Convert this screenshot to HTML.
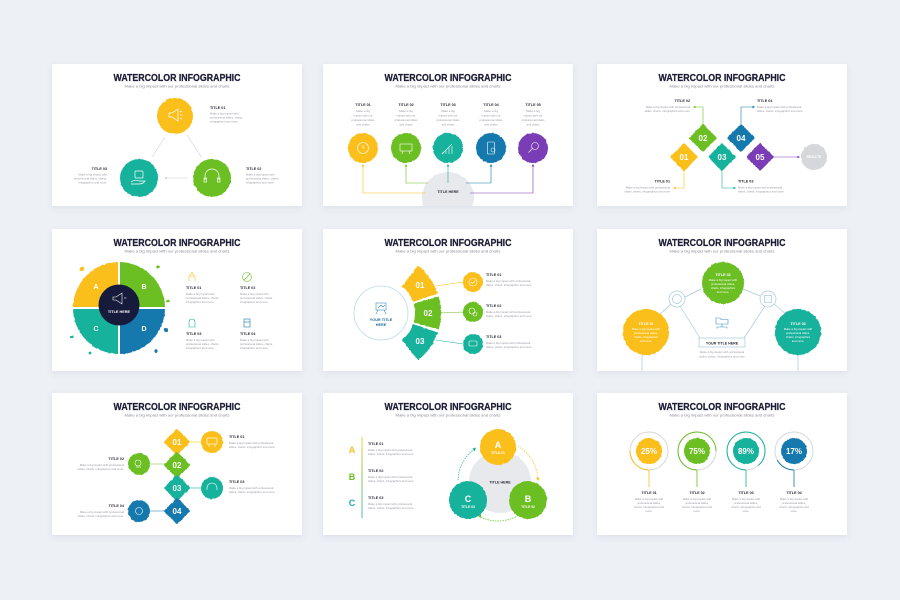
<!DOCTYPE html>
<html><head><meta charset="utf-8"><style>
html,body{margin:0;padding:0;background:#edf0f5;width:900px;height:600px;overflow:hidden}
svg{display:block}
text{font-family:"Liberation Sans",sans-serif}
.T{font-weight:bold;font-size:10px;fill:#1c1d35;stroke:#1c1d35;stroke-width:.25}
.S{font-size:3.4px;fill:#8a8a95}
.H{font-weight:bold;font-size:3.7px;fill:#2b2b3a}
.D{font-size:2.8px;fill:#9a9aa5}
.W{fill:#fff}
.N{font-weight:bold;font-size:8px;fill:#fff}
</style></head><body>
<svg width="900" height="600" viewBox="0 0 900 600" xmlns="http://www.w3.org/2000/svg">
<defs>
<filter id="sh" x="-10%" y="-10%" width="120%" height="125%"><feDropShadow dx="0" dy="2" stdDeviation="3" flood-color="#6a7590" flood-opacity="0.12"/></filter>
<filter id="r" x="-30%" y="-30%" width="160%" height="160%"><feTurbulence type="fractalNoise" baseFrequency="0.35" numOctaves="2" seed="7"/><feDisplacementMap in="SourceGraphic" scale="1.8" xChannelSelector="R" yChannelSelector="G"/></filter>
<linearGradient id="lg" x1="0" y1="0" x2="0" y2="1"><stop offset="0" stop-color="#fbbf1a"/><stop offset=".5" stop-color="#6cbf22"/><stop offset="1" stop-color="#17b29c"/></linearGradient>
<clipPath id="sc"><rect width="250" height="142"/></clipPath>
</defs>
<rect width="900" height="600" fill="#edf0f5"/>

<!-- Slide 1 -->
<g transform="translate(52,64)">
<rect width="250" height="142" fill="#fff" filter="url(#sh)"/>
<text x="125" y="17" text-anchor="middle" class="T" textLength="127" lengthAdjust="spacingAndGlyphs">WATERCOLOR INFOGRAPHIC</text>
<text x="125" y="23.5" text-anchor="middle" class="S" textLength="105" lengthAdjust="spacingAndGlyphs">Make a big impact with our professional slides and charts</text>
<g stroke="#cfd0d4" stroke-width=".6" fill="none"><line x1="113" y1="73" x2="100" y2="93"/><line x1="135" y1="71" x2="150" y2="94"/><line x1="136" y1="114" x2="114" y2="114"/></g>
<polygon points="112,114 115,112.6 115,115.4" fill="#cfd0d4"/>
<g filter="url(#r)"><circle cx="123" cy="52" r="18" fill="#fbbf1a"/><circle cx="87" cy="114" r="19" fill="#17b29c"/><circle cx="160" cy="114" r="19" fill="#6cbf22"/></g>
<g stroke="#fff" stroke-width=".7" fill="none"><path d="M117,49 h3 l6,-4 v12 l-6,-4 h-3 z"/><path d="M128,48 l2,-1 M128,51 h2.5 M128,54 l2,1"/>
<path d="M153,116 v-4 a7,7 0 0 1 14,0 v4"/><rect x="152" y="114" width="2.5" height="4"/><rect x="165.5" y="114" width="2.5" height="4"/>
<rect x="83" y="107" width="8" height="7" rx="1"/><path d="M79,118 q4,-3 8,-1 h6 q-2,3 -6,3 h-8"/></g>
<text x="158" y="45" class="H">TITLE 01</text>
<text x="158" y="50.5" class="D">Make a big impact with</text><text x="158" y="54.5" class="D">professional slides, charts,</text><text x="158" y="58.5" class="D">infographics and more.</text>
<text x="55" y="106" class="H" text-anchor="end">TITLE 03</text>
<text x="55" y="111.5" class="D" text-anchor="end">Make a big impact with</text><text x="55" y="115.5" class="D" text-anchor="end">professional slides, charts,</text><text x="55" y="119.5" class="D" text-anchor="end">infographics and more.</text>
<text x="194" y="106" class="H">TITLE 02</text>
<text x="194" y="111.5" class="D">Make a big impact with</text><text x="194" y="115.5" class="D">professional slides, charts,</text><text x="194" y="119.5" class="D">infographics and more.</text>
</g>

<!-- Slide 2 -->
<g transform="translate(323,64)">
<rect width="250" height="142" fill="#fff" filter="url(#sh)"/>
<text x="125" y="17" text-anchor="middle" class="T" textLength="127" lengthAdjust="spacingAndGlyphs">WATERCOLOR INFOGRAPHIC</text>
<text x="125" y="23.5" text-anchor="middle" class="S" textLength="105" lengthAdjust="spacingAndGlyphs">Make a big impact with our professional slides and charts</text>
<g clip-path="url(#sc)"><g filter="url(#r)"><circle cx="125" cy="134" r="26" fill="#e8e9ec"/></g></g>
<g text-anchor="middle">
<text x="40" y="42" class="H">TITLE 01</text><text x="83" y="42" class="H">TITLE 02</text><text x="125" y="42" class="H">TITLE 03</text><text x="168" y="42" class="H">TITLE 04</text><text x="210" y="42" class="H">TITLE 05</text>
<g class="D">
<text x="40" y="48">Make a big</text><text x="40" y="52.5">impact with our</text><text x="40" y="57">professional slides</text><text x="40" y="61.5">and charts</text>
<text x="83" y="48">Make a big</text><text x="83" y="52.5">impact with our</text><text x="83" y="57">professional slides</text><text x="83" y="61.5">and charts</text>
<text x="125" y="48">Make a big</text><text x="125" y="52.5">impact with our</text><text x="125" y="57">professional slides</text><text x="125" y="61.5">and charts</text>
<text x="168" y="48">Make a big</text><text x="168" y="52.5">impact with our</text><text x="168" y="57">professional slides</text><text x="168" y="61.5">and charts</text>
<text x="210" y="48">Make a big</text><text x="210" y="52.5">impact with our</text><text x="210" y="57">professional slides</text><text x="210" y="61.5">and charts</text>
</g></g>
<g fill="none" stroke-width=".6">
<polyline points="40,101 40,129 103,129" stroke="#fbbf1a"/>
<polyline points="83,101 83,119 105,119" stroke="#6cbf22"/>
<polyline points="125,101 125,119" stroke="#17b29c"/>
<polyline points="168,101 168,119 143,119" stroke="#1779ad"/>
<polyline points="210,101 210,129 147,129" stroke="#7a3db5"/>
</g>
<polygon points="40,100 38.6,102.5 41.4,102.5" fill="#fbbf1a"/><polygon points="83,100 81.6,102.5 84.4,102.5" fill="#6cbf22"/><polygon points="125,100 123.6,102.5 126.4,102.5" fill="#17b29c"/><polygon points="168,100 166.6,102.5 169.4,102.5" fill="#1779ad"/><polygon points="210,100 208.6,102.5 211.4,102.5" fill="#7a3db5"/>
<text x="125" y="129" class="H" text-anchor="middle">TITLE HERE</text>
<g filter="url(#r)"><circle cx="40" cy="84" r="15" fill="#fbbf1a"/><circle cx="83" cy="84" r="15" fill="#6cbf22"/><circle cx="125" cy="84" r="15" fill="#17b29c"/><circle cx="168" cy="84" r="15" fill="#1779ad"/><circle cx="210" cy="84" r="15" fill="#7a3db5"/></g>
<g stroke="#fff" stroke-width=".6" fill="none">
<circle cx="40" cy="84" r="5.5"/><path d="M40,81 v3 h2"/>
<rect x="77" y="80" width="12" height="7"/><path d="M80,87 l-1,3 M86,87 l1,3"/>
<path d="M119,90 l10,-10 M120,90 v-2 M123,90 v-4 M126,90 v-6 M129,90 v-8"/>
<rect x="164.5" y="78" width="7" height="12" rx="1"/><circle cx="170" cy="86" r="2"/>
<circle cx="212" cy="82" r="3.5"/><path d="M209.5,84.5 l-4,4"/>
</g>
</g>

<!-- Slide 3 -->
<g transform="translate(597,64)">
<rect width="250" height="142" fill="#fff" filter="url(#sh)"/>
<text x="125" y="17" text-anchor="middle" class="T" textLength="127" lengthAdjust="spacingAndGlyphs">WATERCOLOR INFOGRAPHIC</text>
<text x="125" y="23.5" text-anchor="middle" class="S" textLength="105" lengthAdjust="spacingAndGlyphs">Make a big impact with our professional slides and charts</text>
<g fill="none" stroke-width=".6">
<polyline points="106,62 106,43 97,43" stroke="#6cbf22"/>
<polyline points="144,62 144,43 157,43" stroke="#1779ad"/>
<polyline points="87,105 87,124 77,124" stroke="#fbbf1a"/>
<polyline points="125,105 125,124 138,124" stroke="#17b29c"/>
<line x1="174" y1="93" x2="202" y2="93" stroke="#7a3db5"/>
</g>
<polygon points="96,43 98.5,41.6 98.5,44.4" fill="#6cbf22"/><polygon points="158,43 155.5,41.6 155.5,44.4" fill="#1779ad"/><polygon points="76,124 78.5,122.6 78.5,125.4" fill="#fbbf1a"/><polygon points="139,124 136.5,122.6 136.5,125.4" fill="#17b29c"/><polygon points="203,93 200.5,91.6 200.5,94.4" fill="#7a3db5"/>
<g filter="url(#r)">
<rect x="-10" y="-10" width="20" height="20" rx="1.5" fill="#fbbf1a" transform="translate(87,93) rotate(45)"/>
<rect x="-10" y="-10" width="20" height="20" rx="1.5" fill="#6cbf22" transform="translate(106,74) rotate(45)"/>
<rect x="-10" y="-10" width="20" height="20" rx="1.5" fill="#17b29c" transform="translate(125,93) rotate(45)"/>
<rect x="-10" y="-10" width="20" height="20" rx="1.5" fill="#1779ad" transform="translate(144,74) rotate(45)"/>
<rect x="-10" y="-10" width="20" height="20" rx="1.5" fill="#7a3db5" transform="translate(163,93) rotate(45)"/>
<circle cx="217" cy="93" r="13" fill="#d6d7da"/>
</g>
<g text-anchor="middle" class="N"><text x="87" y="96">01</text><text x="106" y="77">02</text><text x="125" y="96">03</text><text x="144" y="77">04</text><text x="163" y="96">05</text></g>
<text x="217" y="94.2" text-anchor="middle" style="font-weight:bold;font-size:3.2px;fill:#fff">RESULTS</text>
<text x="93" y="38" class="H" text-anchor="end">TITLE 02</text>
<text x="93" y="44" class="D" text-anchor="end">Make a big impact with professional</text><text x="93" y="48" class="D" text-anchor="end">slides, charts, infographics and more</text>
<text x="160" y="38" class="H">TITLE 04</text>
<text x="160" y="44" class="D">Make a big impact with professional</text><text x="160" y="48" class="D">slides, charts, infographics and more</text>
<text x="73" y="118.5" class="H" text-anchor="end">TITLE 01</text>
<text x="73" y="124.5" class="D" text-anchor="end">Make a big impact with professional</text><text x="73" y="128.5" class="D" text-anchor="end">slides, charts, infographics and more</text>
<text x="141" y="118.5" class="H">TITLE 03</text>
<text x="141" y="124.5" class="D">Make a big impact with professional</text><text x="141" y="128.5" class="D">slides, charts, infographics and more</text>
</g>

<!-- Slide 4 -->
<g transform="translate(52,229)">
<rect width="250" height="142" fill="#fff" filter="url(#sh)"/>
<text x="125" y="17" text-anchor="middle" class="T" textLength="127" lengthAdjust="spacingAndGlyphs">WATERCOLOR INFOGRAPHIC</text>
<text x="125" y="23.5" text-anchor="middle" class="S" textLength="105" lengthAdjust="spacingAndGlyphs">Make a big impact with our professional slides and charts</text>
<g filter="url(#r)">
<path d="M67,79 L21,79 A46,46 0 0,1 67,33 Z" fill="#fbbf1a"/>
<path d="M67,79 L67,33 A46,46 0 0,1 113,79 Z" fill="#6cbf22"/>
<path d="M67,79 L113,79 A46,46 0 0,1 67,125 Z" fill="#1779ad"/>
<path d="M67,79 L67,125 A46,46 0 0,1 21,79 Z" fill="#17b29c"/>
<circle cx="30" cy="40" r="2" fill="#fbbf1a"/><circle cx="106" cy="38" r="1.6" fill="#6cbf22"/><circle cx="116" cy="72" r="1.5" fill="#6cbf22"/><circle cx="114" cy="101" r="2" fill="#1779ad"/><circle cx="104" cy="122" r="1.6" fill="#1779ad"/><circle cx="20" cy="108" r="1.6" fill="#17b29c"/><circle cx="38" cy="124" r="1.4" fill="#17b29c"/>
</g>
<line x1="67" y1="28" x2="67" y2="130" stroke="#fff" stroke-width="2"/><line x1="16" y1="79" x2="118" y2="79" stroke="#fff" stroke-width="2"/>
<circle cx="67" cy="76" r="20.5" fill="#161a3b"/>
<g stroke="#fff" stroke-width=".6" fill="none"><path d="M61,68 h3 l6,-4 v11 l-6,-4 h-3 z"/><path d="M72,69 h2.5"/></g>
<text x="67" y="84" text-anchor="middle" style="font-weight:bold;font-size:3.8px;fill:#fff">TITLE HERE</text>
<g style="font-weight:bold;font-size:7px;fill:#fff" text-anchor="middle"><text x="44" y="60">A</text><text x="92" y="60">B</text><text x="44" y="102">C</text><text x="92" y="102">D</text></g>
<g fill="none" stroke-width=".6">
<path d="M137,52 v-5 h6 v5 M138,47 l2,-4 l2,4" stroke="#fbbf1a"/>
<circle cx="195" cy="48" r="4.5" stroke="#6cbf22"/><path d="M192,51 l6,-6" stroke="#6cbf22"/>
<path d="M137,98 v-5 a3,3 0 0 1 6,0 v5 z" stroke="#17b29c"/>
<rect x="192" y="90" width="6" height="8" stroke="#1779ad"/><path d="M192,93 h6" stroke="#1779ad"/>
</g>
<text x="134" y="60" class="H">TITLE 01</text><text x="134" y="66" class="D">Make a big impact with</text><text x="134" y="70" class="D">professional slides, charts,</text><text x="134" y="74" class="D">infographics and more.</text>
<text x="188" y="60" class="H">TITLE 02</text><text x="188" y="66" class="D">Make a big impact with</text><text x="188" y="70" class="D">professional slides, charts,</text><text x="188" y="74" class="D">infographics and more.</text>
<text x="134" y="106" class="H">TITLE 03</text><text x="134" y="112" class="D">Make a big impact with</text><text x="134" y="116" class="D">professional slides, charts,</text><text x="134" y="120" class="D">infographics and more.</text>
<text x="188" y="106" class="H">TITLE 04</text><text x="188" y="112" class="D">Make a big impact with</text><text x="188" y="116" class="D">professional slides, charts,</text><text x="188" y="120" class="D">infographics and more.</text>
</g>

<!-- Slide 5 -->
<g transform="translate(323,229)">
<rect width="250" height="142" fill="#fff" filter="url(#sh)"/>
<text x="125" y="17" text-anchor="middle" class="T" textLength="127" lengthAdjust="spacingAndGlyphs">WATERCOLOR INFOGRAPHIC</text>
<text x="125" y="23.5" text-anchor="middle" class="S" textLength="105" lengthAdjust="spacingAndGlyphs">Make a big impact with our professional slides and charts</text>
<circle cx="58" cy="84" r="27" fill="none" stroke="#bcdcea" stroke-width=".8"/>
<g fill="none" stroke="#3a8fc4" stroke-width=".6"><rect x="53" y="74" width="10" height="7"/><path d="M55,81 l-2,4 M61,81 l2,4 M55,79 l3,-3 l2,2 l2,-2"/></g>
<text x="58" y="92" text-anchor="middle" style="font-weight:bold;font-size:3.8px;fill:#1c6e9c">YOUR TITLE</text>
<text x="58" y="97" text-anchor="middle" style="font-weight:bold;font-size:3.8px;fill:#1c6e9c">HERE</text>
<g fill="none" stroke-width=".6"><line x1="113" y1="57" x2="140" y2="53" stroke="#fbbf1a"/><line x1="116" y1="84" x2="140" y2="83" stroke="#6cbf22"/><line x1="113" y1="111" x2="140" y2="115" stroke="#17b29c"/></g>
<g filter="url(#r)">
<path d="M78.93,57.21 L94.94,36.72 A60,60 0 0,1 114.73,64.46 L90.15,72.93 A34,34 0 0,0 78.93,57.21 Z" fill="#fbbf1a"/>
<path d="M90.68,74.63 L115.68,67.46 A60,60 0 0,1 115.68,100.54 L90.68,93.37 A34,34 0 0,0 90.68,74.63 Z" fill="#6cbf22"/>
<path d="M90.15,95.07 L114.73,103.54 A60,60 0 0,1 94.94,131.28 L78.93,110.79 A34,34 0 0,0 90.15,95.07 Z" fill="#17b29c"/>
<circle cx="150" cy="53" r="10" fill="#fbbf1a"/><circle cx="150" cy="83" r="10" fill="#6cbf22"/><circle cx="150" cy="115" r="10" fill="#17b29c"/>
</g>
<g text-anchor="middle" class="N"><text x="97" y="59">01</text><text x="105" y="87">02</text><text x="97" y="115">03</text></g>
<g stroke="#fff" stroke-width=".6" fill="none"><circle cx="150" cy="53" r="4"/><path d="M148,53 l1.5,1.5 l3,-3"/><circle cx="149" cy="82" r="3"/><circle cx="152" cy="85" r="2"/><rect x="146" y="112" width="8" height="5" rx="1"/></g>
<text x="163" y="47" class="H">TITLE 01</text><text x="163" y="53" class="D">Make a big impact with professional</text><text x="163" y="57" class="D">slides, charts, infographics and more</text>
<text x="163" y="78" class="H">TITLE 02</text><text x="163" y="84" class="D">Make a big impact with professional</text><text x="163" y="88" class="D">slides, charts, infographics and more</text>
<text x="163" y="109" class="H">TITLE 03</text><text x="163" y="115" class="D">Make a big impact with professional</text><text x="163" y="119" class="D">slides, charts, infographics and more</text>
</g>

<!-- Slide 6 -->
<g transform="translate(597,229)">
<rect width="250" height="142" fill="#fff" filter="url(#sh)"/>
<text x="125" y="17" text-anchor="middle" class="T" textLength="127" lengthAdjust="spacingAndGlyphs">WATERCOLOR INFOGRAPHIC</text>
<text x="125" y="23.5" text-anchor="middle" class="S" textLength="105" lengthAdjust="spacingAndGlyphs">Make a big impact with our professional slides and charts</text>
<g fill="none" stroke="#a6c8dc" stroke-width=".7">
<line x1="62" y1="86" x2="74" y2="75"/><line x1="88" y1="68" x2="104" y2="60"/><line x1="146" y1="60" x2="163" y2="67"/><line x1="177" y1="75" x2="190" y2="86"/>
<line x1="83" y1="77" x2="103" y2="109"/><line x1="168" y1="77" x2="147" y2="109"/>
<line x1="45" y1="124" x2="45" y2="142"/><line x1="201" y1="124" x2="201" y2="142"/>
<rect x="102" y="109" width="46" height="9" fill="#fff"/>
<circle cx="80" cy="70" r="8" fill="#fff"/><circle cx="80" cy="70" r="4.5"/><circle cx="171" cy="70" r="8" fill="#fff"/><rect x="167.5" y="66.5" width="7" height="7"/>
</g>
<g fill="none" stroke="#3a8fc4" stroke-width=".6"><path d="M119,95 v-6 h4 l1,1.5 h7 v4.5 z M125,95 v3 M120,98 h10 M120,98 v1.5 M130,98 v1.5"/></g>
<text x="125" y="115.5" text-anchor="middle" class="H" style="font-size:3.6px">YOUR TITLE HERE</text>
<text x="125" y="124" text-anchor="middle" class="D">Make a big impact with professional</text><text x="125" y="128.5" text-anchor="middle" class="D">slides, charts, infographics and more</text>
<g filter="url(#r)"><circle cx="126" cy="54" r="21" fill="#6cbf22"/><circle cx="49" cy="103" r="23" fill="#fbbf1a"/><circle cx="201" cy="103" r="23" fill="#17b29c"/></g>
<g text-anchor="middle">
<text x="126" y="47" class="H W">TITLE 02</text><text x="126" y="52" class="D W">Make a big impact with</text><text x="126" y="56" class="D W">professional slides,</text><text x="126" y="60" class="D W">charts, infographics</text><text x="126" y="64" class="D W">and more.</text>
<text x="49" y="96" class="H W">TITLE 01</text><text x="49" y="101" class="D W">Make a big impact with</text><text x="49" y="105" class="D W">professional slides,</text><text x="49" y="109" class="D W">charts, infographics</text><text x="49" y="113" class="D W">and more.</text>
<text x="201" y="96" class="H W">TITLE 03</text><text x="201" y="101" class="D W">Make a big impact with</text><text x="201" y="105" class="D W">professional slides,</text><text x="201" y="109" class="D W">charts, infographics</text><text x="201" y="113" class="D W">and more.</text>
</g>
</g>

<!-- Slide 7 -->
<g transform="translate(52,393)">
<rect width="250" height="142" fill="#fff" filter="url(#sh)"/>
<text x="125" y="17" text-anchor="middle" class="T" textLength="127" lengthAdjust="spacingAndGlyphs">WATERCOLOR INFOGRAPHIC</text>
<text x="125" y="23.5" text-anchor="middle" class="S" textLength="105" lengthAdjust="spacingAndGlyphs">Make a big impact with our professional slides and charts</text>
<g stroke-width=".6"><line x1="135" y1="49" x2="150" y2="49" stroke="#fbbf1a"/><line x1="97" y1="71" x2="115" y2="71" stroke="#6cbf22"/><line x1="135" y1="95" x2="150" y2="95" stroke="#17b29c"/><line x1="97" y1="118" x2="115" y2="118" stroke="#1779ad"/></g>
<g filter="url(#r)">
<rect x="-9.5" y="-9.5" width="19" height="19" rx="1.5" fill="#fbbf1a" transform="translate(125,49) rotate(45)"/>
<rect x="-9.5" y="-9.5" width="19" height="19" rx="1.5" fill="#6cbf22" transform="translate(125,72) rotate(45)"/>
<rect x="-9.5" y="-9.5" width="19" height="19" rx="1.5" fill="#17b29c" transform="translate(125,95) rotate(45)"/>
<rect x="-9.5" y="-9.5" width="19" height="19" rx="1.5" fill="#1779ad" transform="translate(125,118) rotate(45)"/>
<circle cx="160" cy="49" r="11" fill="#fbbf1a"/><circle cx="87" cy="71" r="11" fill="#6cbf22"/><circle cx="160" cy="95" r="11" fill="#17b29c"/><circle cx="87" cy="118" r="11" fill="#1779ad"/>
</g>
<g text-anchor="middle" class="N"><text x="125" y="52">01</text><text x="125" y="75">02</text><text x="125" y="98">03</text><text x="125" y="121">04</text></g>
<g stroke="#fff" stroke-width=".6" fill="none"><rect x="155" y="45" width="10" height="6"/><path d="M157,51 v3 M163,51 v3"/><circle cx="86" cy="70" r="3"/><path d="M84,74 h5"/><path d="M155,97 v-2 a5,5 0 0 1 10,0 v2"/><circle cx="87" cy="118" r="3.5"/></g>
<text x="177" y="45" class="H">TITLE 01</text><text x="177" y="51" class="D">Make a big impact with professional</text><text x="177" y="55" class="D">slides, charts, infographics and more.</text>
<text x="72" y="67" class="H" text-anchor="end">TITLE 02</text><text x="72" y="73" class="D" text-anchor="end">Make a big impact with professional</text><text x="72" y="77" class="D" text-anchor="end">slides, charts, infographics and more.</text>
<text x="177" y="90" class="H">TITLE 03</text><text x="177" y="96" class="D">Make a big impact with professional</text><text x="177" y="100" class="D">slides, charts, infographics and more.</text>
<text x="72" y="114" class="H" text-anchor="end">TITLE 04</text><text x="72" y="120" class="D" text-anchor="end">Make a big impact with professional</text><text x="72" y="124" class="D" text-anchor="end">slides, charts, infographics and more.</text>
</g>

<!-- Slide 8 -->
<g transform="translate(323,393)">
<rect width="250" height="142" fill="#fff" filter="url(#sh)"/>
<text x="125" y="17" text-anchor="middle" class="T" textLength="127" lengthAdjust="spacingAndGlyphs">WATERCOLOR INFOGRAPHIC</text>
<text x="125" y="23.5" text-anchor="middle" class="S" textLength="105" lengthAdjust="spacingAndGlyphs">Make a big impact with our professional slides and charts</text>
<g style="font-weight:bold;font-size:9px" text-anchor="middle"><text x="29" y="60" fill="#fbbf1a">A</text><text x="29" y="87" fill="#6cbf22">B</text><text x="29" y="113" fill="#17b29c">C</text></g>
<rect x="38.6" y="44" width=".8" height="81" fill="url(#lg)"/>
<text x="45" y="52" class="H">TITLE 01</text><text x="45" y="58" class="D">Make a big impact with professional</text><text x="45" y="62" class="D">slides, charts, infographics and more</text>
<text x="45" y="79" class="H">TITLE 02</text><text x="45" y="85" class="D">Make a big impact with professional</text><text x="45" y="89" class="D">slides, charts, infographics and more</text>
<text x="45" y="106" class="H">TITLE 03</text><text x="45" y="112" class="D">Make a big impact with professional</text><text x="45" y="116" class="D">slides, charts, infographics and more</text>
<g filter="url(#r)"><circle cx="177" cy="89" r="31" fill="#e8e9ec"/></g>
<g fill="none" stroke-width=".7" stroke-dasharray="1.5 1">
<path d="M195,53.4 A40,40 0 0 1 214.9,85.9" stroke="#fbbf1a"/>
<path d="M195,122.6 A40,40 0 0 1 156.5,123.5" stroke="#6cbf22"/>
<path d="M135,87.3 A40,40 0 0 1 151.5,56" stroke="#17b29c"/>
</g>
<polygon points="215,88 213,84.5 216.8,84.8" fill="#fbbf1a"/><polygon points="155,123 158,121 158,125" fill="#6cbf22"/><polygon points="153,54.5 149.5,55.5 151.5,58.5" fill="#17b29c"/>
<text x="177" y="90.5" class="H" text-anchor="middle">TITLE HERE</text>
<g filter="url(#r)"><circle cx="175" cy="54" r="18" fill="#fbbf1a"/><circle cx="205" cy="107" r="19" fill="#6cbf22"/><circle cx="145" cy="107" r="19" fill="#17b29c"/></g>
<g text-anchor="middle">
<text x="175" y="55" style="font-weight:bold;font-size:9px;fill:#fff">A</text><text x="175" y="61" class="H W" style="font-size:3.3px">TITLE 01</text>
<text x="205" y="109" style="font-weight:bold;font-size:9px;fill:#fff">B</text><text x="205" y="115" class="H W" style="font-size:3.3px">TITLE 02</text>
<text x="145" y="109" style="font-weight:bold;font-size:9px;fill:#fff">C</text><text x="145" y="115" class="H W" style="font-size:3.3px">TITLE 03</text>
</g>
</g>

<!-- Slide 9 -->
<g transform="translate(597,393)">
<rect width="250" height="142" fill="#fff" filter="url(#sh)"/>
<text x="125" y="17" text-anchor="middle" class="T" textLength="127" lengthAdjust="spacingAndGlyphs">WATERCOLOR INFOGRAPHIC</text>
<text x="125" y="23.5" text-anchor="middle" class="S" textLength="105" lengthAdjust="spacingAndGlyphs">Make a big impact with our professional slides and charts</text>
<g fill="none" stroke-width="1">
<circle cx="52" cy="58" r="19" stroke="#d5d7da"/><circle cx="100" cy="58" r="19" stroke="#d5d7da"/><circle cx="149" cy="58" r="19" stroke="#d5d7da"/><circle cx="197" cy="58" r="19" stroke="#d5d7da"/>
<circle cx="52" cy="58" r="19" stroke="#fbbf1a" stroke-dasharray="29.8 200" transform="rotate(90 52 58)"/>
<circle cx="100" cy="58" r="19" stroke="#6cbf22" stroke-dasharray="89.5 200" transform="rotate(90 100 58)"/>
<circle cx="149" cy="58" r="19" stroke="#17b29c" stroke-dasharray="106 200" transform="rotate(90 149 58)"/>
<circle cx="197" cy="58" r="19" stroke="#1779ad" stroke-dasharray="20.3 200" transform="rotate(90 197 58)"/>
</g>
<g stroke-width=".8"><line x1="52" y1="77" x2="52" y2="94" stroke="#fbbf1a"/><line x1="100" y1="77" x2="100" y2="94" stroke="#6cbf22"/><line x1="149" y1="77" x2="149" y2="94" stroke="#17b29c"/><line x1="197" y1="77" x2="197" y2="94" stroke="#1779ad"/></g>
<g filter="url(#r)"><circle cx="52" cy="58" r="13" fill="#fbbf1a"/><circle cx="100" cy="58" r="13" fill="#6cbf22"/><circle cx="149" cy="58" r="13" fill="#17b29c"/><circle cx="197" cy="58" r="13" fill="#1779ad"/></g>
<g text-anchor="middle" class="N"><text x="52" y="61">25%</text><text x="100" y="61">75%</text><text x="149" y="61">89%</text><text x="197" y="61">17%</text></g>
<g text-anchor="middle">
<text x="52" y="101" class="H">TITLE 01</text><text x="52" y="107" class="D">Make a big impact with</text><text x="52" y="111" class="D">professional slides,</text><text x="52" y="115" class="D">charts, infographics and</text><text x="52" y="119" class="D">more.</text>
<text x="100" y="101" class="H">TITLE 02</text><text x="100" y="107" class="D">Make a big impact with</text><text x="100" y="111" class="D">professional slides,</text><text x="100" y="115" class="D">charts, infographics and</text><text x="100" y="119" class="D">more.</text>
<text x="149" y="101" class="H">TITLE 03</text><text x="149" y="107" class="D">Make a big impact with</text><text x="149" y="111" class="D">professional slides,</text><text x="149" y="115" class="D">charts, infographics and</text><text x="149" y="119" class="D">more.</text>
<text x="197" y="101" class="H">TITLE 04</text><text x="197" y="107" class="D">Make a big impact with</text><text x="197" y="111" class="D">professional slides,</text><text x="197" y="115" class="D">charts, infographics and</text><text x="197" y="119" class="D">more.</text>
</g>
</g>
</svg>
</body></html>
